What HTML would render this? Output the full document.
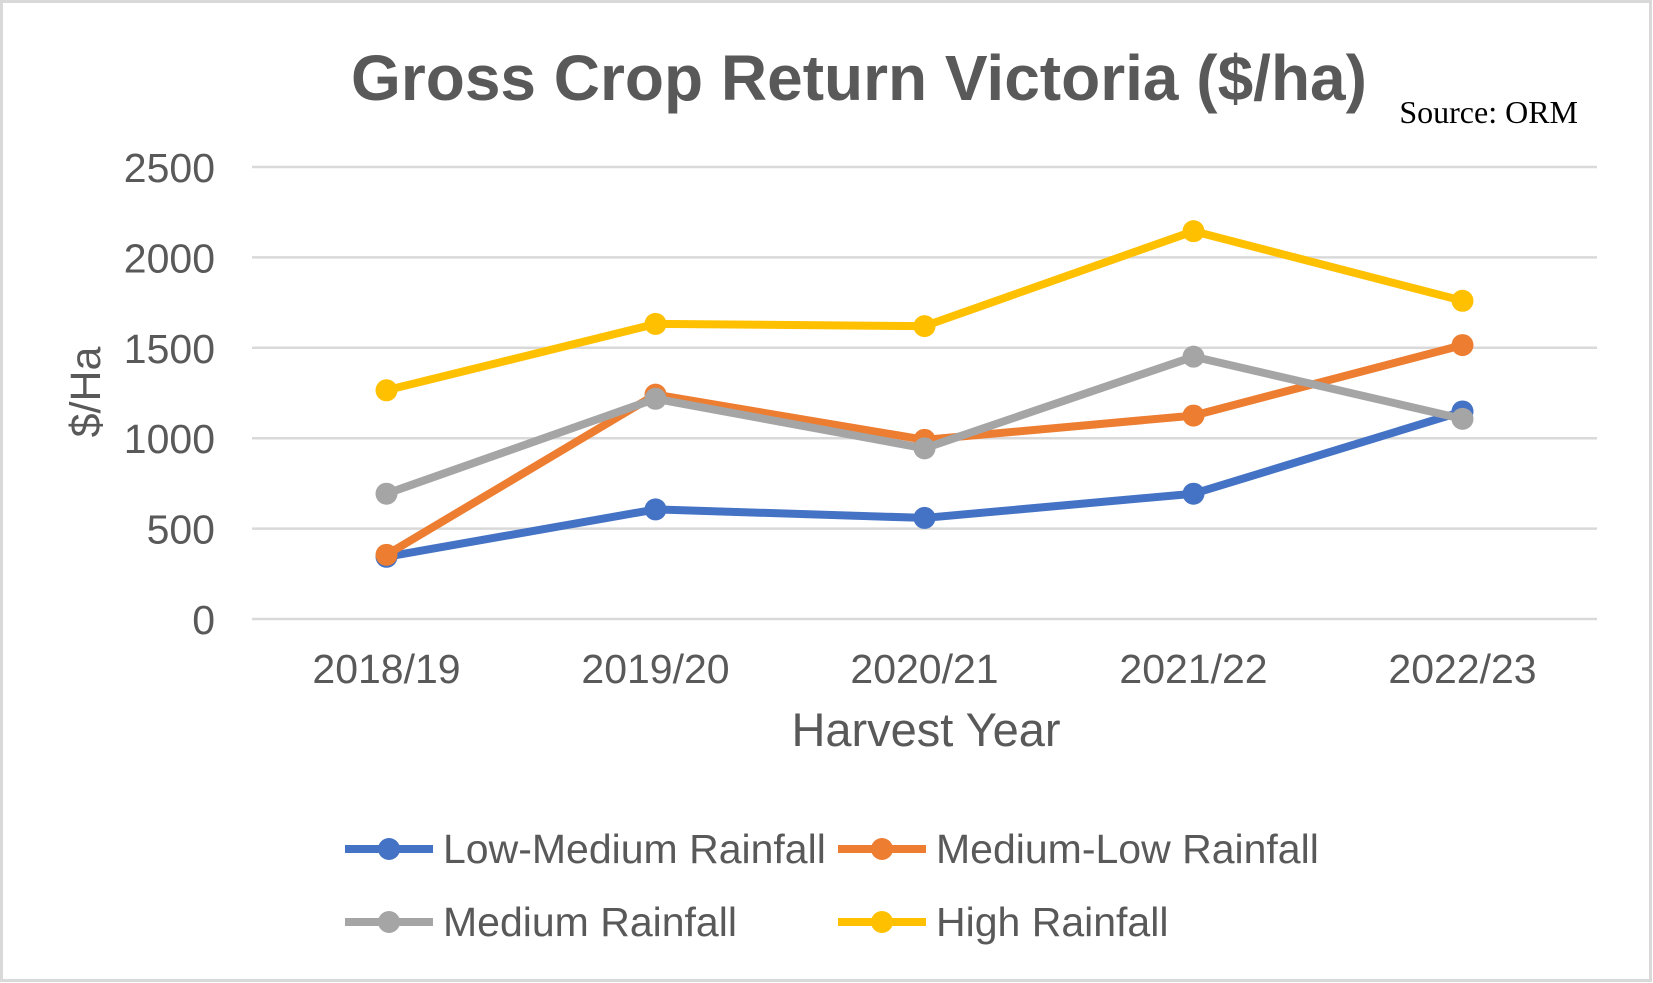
<!DOCTYPE html>
<html><head><meta charset="utf-8"><style>
html,body{margin:0;padding:0;background:#fff;}
svg{display:block;font-family:"Liberation Sans",Arial,sans-serif;}
</style></head><body>
<svg id="chart" width="1653" height="983" viewBox="0 0 1653 983" xmlns="http://www.w3.org/2000/svg">
<rect x="1.5" y="1.5" width="1649" height="979" fill="#fff" stroke="#d9d9d9" stroke-width="3"/>
<text x="859" y="100" text-anchor="middle" font-size="64" font-weight="bold" fill="#595959">Gross Crop Return Victoria ($/ha)</text>
<text x="1578" y="123" text-anchor="end" font-family="Liberation Serif,serif" font-size="32" fill="#000">Source: ORM</text>
<g id="grid"></g>
<g id="series"></g>
<text transform="translate(100,392) rotate(-90)" text-anchor="middle" font-size="43" fill="#595959">$/Ha</text>
<text x="926" y="746" text-anchor="middle" font-size="47" fill="#595959">Harvest Year</text>
<g id="legend"></g>
</svg>
<script>
const categories = ["2018/19","2019/20","2020/21","2021/22","2022/23"];
const yTicks = [0,500,1000,1500,2000,2500];
const seriesNames = ["Low-Medium Rainfall","Medium-Low Rainfall","Medium Rainfall","High Rainfall"];
const lowMedium = [344,606,559,693,1148];
const mediumLow = [355,1241,991,1125,1515];
const medium = [693,1218,944,1451,1107];
const high = [1265,1632,1620,2145,1760];
const colors = ["#4472c4","#ed7d31","#a5a5a5","#ffc000"];

const NS="http://www.w3.org/2000/svg";
const plotL=252, plotR=1597, y0=619, y2500=167;
const yMax=2500;
function xPos(i){return plotL+(plotR-plotL)/categories.length*(i+0.5);}
function yPos(v){return y0-(y0-y2500)*v/yMax;}
function mk(tag,attrs,parent){const e=document.createElementNS(NS,tag);for(const k in attrs)e.setAttribute(k,attrs[k]);parent.appendChild(e);return e;}

const grid=document.getElementById('grid');
yTicks.forEach(t=>{
  const l=mk('line',{x1:plotL,x2:plotR,y1:yPos(t),y2:yPos(t),stroke:'#d9d9d9','stroke-width':2.5},grid);
  
  
  const tx=mk('text',{x:215,y:yPos(t)+15,'text-anchor':'end','font-size':41,fill:'#595959'},grid);
  tx.textContent=t;
  
  
});
categories.forEach((c,i)=>{
  const tx=mk('text',{x:xPos(i),y:683,'text-anchor':'middle','font-size':41,fill:'#595959'},grid);
  tx.textContent=c;
  
  
});

const allSeries=[lowMedium,mediumLow,medium,high];
const sg=document.getElementById('series');
allSeries.forEach((vals,s)=>{
  const g=mk('g',{},sg);
  
  
  const pts=vals.map((v,i)=>xPos(i)+','+yPos(v)).join(' ');
  const pl=mk('polyline',{points:pts,fill:'none',stroke:colors[s],'stroke-width':8,'stroke-linejoin':'round'},g);
  
  
  vals.forEach((v,i)=>{
    const c=mk('circle',{cx:xPos(i),cy:yPos(v),r:11,fill:colors[s]},g);
    
    
  });
});

const lg=document.getElementById('legend');
const legPos=[[345,849],[838,849],[345,922],[838,922]];
seriesNames.forEach((n,s)=>{
  const [lx,ly]=legPos[s];
  const g=mk('g',{},lg);
  
  
  mk('line',{x1:lx,x2:lx+88,y1:ly,y2:ly,stroke:colors[s],'stroke-width':8},g);
  mk('circle',{cx:lx+44,cy:ly,r:11,fill:colors[s]},g);
  const t=mk('text',{x:lx+98,y:ly+14,'font-size':41,fill:'#595959'},g);
  t.textContent=n;
});
</script>
</body></html>
